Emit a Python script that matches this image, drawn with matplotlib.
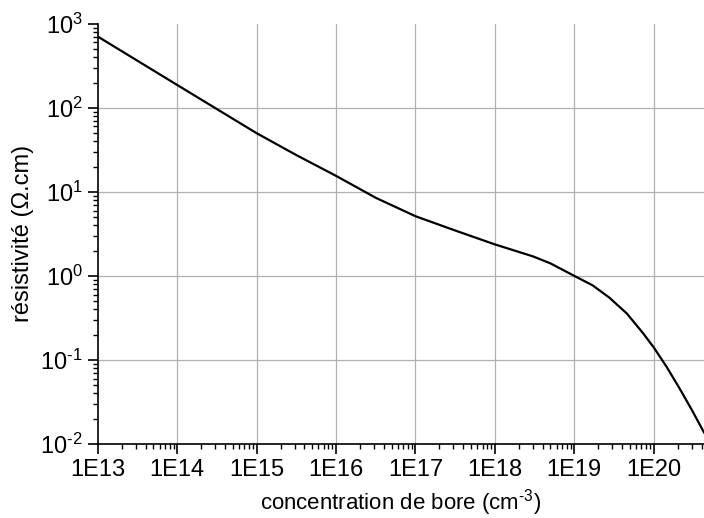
import numpy as np
import matplotlib
matplotlib.use("Agg")
import matplotlib.pyplot as plt
from matplotlib.ticker import FixedLocator, FuncFormatter, NullFormatter

plt.rcParams['font.family'] = ['Liberation Sans', 'DejaVu Sans']
plt.rcParams['mathtext.fontset'] = 'custom'
plt.rcParams['mathtext.rm'] = 'Liberation Sans'

# boron concentration (cm^-3) and resistivity (ohm.cm)
conc = [1e13, 3.16e13, 1e14, 3.16e14, 1e15, 3.16e15, 1e16, 3.16e16,
        1e17, 3.16e17, 1e18, 3e18, 5e18, 1e19, 1.7e19, 2.75e19,
        4.6e19, 7.4e19, 1e20, 1.45e20, 2.1e20, 3e20, 4.3e20]
rho = [705, 363, 187, 96.6, 49.9, 27.4, 15.5, 8.5,
       5.13, 3.47, 2.37, 1.71, 1.41, 1.0, 0.772, 0.553,
       0.356, 0.206, 0.141, 0.083, 0.0464, 0.0257, 0.0137]

x_exp = list(range(13, 21))   # 1E13 .. 1E20
y_exp = list(range(-2, 4))    # 10^-2 .. 10^3
XLIM = (1e13, 4.3e20)
YLIM = (1e-2, 1e3)

fig = plt.figure(figsize=(7.04, 5.18), dpi=100)
ax = fig.add_axes([0.139, 0.143, 0.861, 0.811])

ax.plot(conc, rho, color='black', lw=1.6)
ax.set_xscale('log')
ax.set_yscale('log')
ax.set_xlim(*XLIM)
ax.set_ylim(*YLIM)

# grid only inside the frame
for e in x_exp[1:]:
    ax.axvline(10.0 ** e, color='#b0b0b0', lw=0.9, zorder=0)
for e in y_exp[1:-1]:
    ax.axhline(10.0 ** e, color='#b0b0b0', lw=0.9, zorder=0)

ax.spines['top'].set_visible(False)
ax.spines['right'].set_visible(False)
ax.spines['left'].set_linewidth(1.2)
ax.spines['bottom'].set_linewidth(1.2)

x_minor = [m * 10.0 ** e for e in x_exp for m in range(2, 10) if m * 10.0 ** e <= XLIM[1]]
y_minor = [m * 10.0 ** e for e in y_exp[:-1] for m in range(2, 10)]
ax.xaxis.set_major_locator(FixedLocator([10.0 ** e for e in x_exp]))
ax.xaxis.set_minor_locator(FixedLocator(x_minor))
ax.yaxis.set_major_locator(FixedLocator([10.0 ** e for e in y_exp]))
ax.yaxis.set_minor_locator(FixedLocator(y_minor))


def ylab(v, pos):
    e = int(round(np.log10(v)))
    return r"$\mathdefault{10^{\text{%d}}}$" % e


ax.xaxis.set_major_formatter(FuncFormatter(lambda v, p: "1E%d" % round(np.log10(v))))
ax.yaxis.set_major_formatter(FuncFormatter(ylab))
ax.xaxis.set_minor_formatter(NullFormatter())
ax.yaxis.set_minor_formatter(NullFormatter())

ax.tick_params(which='major', direction='out', length=7, width=1.2, labelsize=17, pad=4)
ax.tick_params(which='minor', direction='out', length=3.5, width=1.0)

ax.set_xlabel(r"concentration de bore (cm$\mathdefault{^{\text{-3}}}$)", fontsize=16, labelpad=4)
ax.set_ylabel("résistivité (Ω.cm)", fontsize=17)
ax.yaxis.set_label_coords(-0.105, 0.5)

fig.savefig("out.png", dpi=100)
